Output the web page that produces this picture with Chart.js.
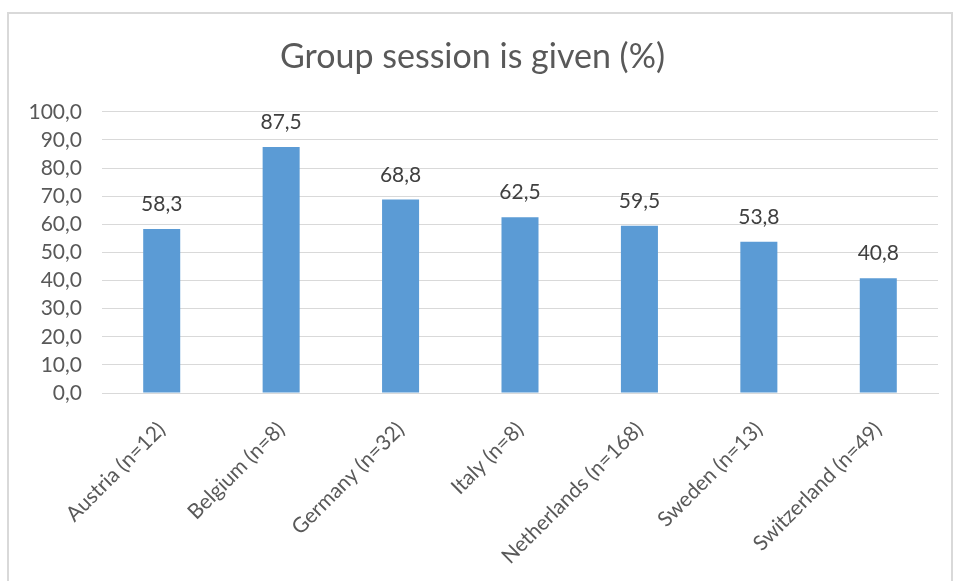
<!DOCTYPE html>
<html>
<head>
<meta charset="utf-8">
<script src="https://cdn.jsdelivr.net/npm/chart.js@4/dist/chart.umd.min.js"></script>
<style>
  body { margin: 0; background: #fff; }
  #frame { position: absolute; left: 7px; top: 12px; width: 946px; height: 600px; border: 2px solid #d9d9d9; box-sizing: border-box; }
  #wrap { position: absolute; left: 0; top: 0; width: 955px; height: 581px; }
</style>
</head>
<body>
<div id="frame"></div>
<div id="wrap"><canvas id="myChart"></canvas></div>
<script>
// countries with sample size, and share giving a group session
const countries = ['Austria (n=12)', 'Belgium (n=8)', 'Germany (n=32)', 'Italy (n=8)', 'Netherlands (n=168)', 'Sweden (n=13)', 'Switzerland (n=49)'];
const percentGiven = [58.3, 87.5, 68.8, 62.5, 59.5, 53.8, 40.8];

const fmt = v => v.toFixed(1).replace('.', ',');

// value labels above each bar
const barLabels = {
    id: 'barLabels',
    afterDatasetsDraw(chart) {
        const c = chart.ctx;
        const meta = chart.getDatasetMeta(0);
        c.save();
        c.font = '21px Lato';
        c.fillStyle = '#404040';
        c.textAlign = 'center';
        c.textBaseline = 'alphabetic';
        meta.data.forEach((bar, i) => {
            c.fillText(fmt(percentGiven[i]), bar.x, bar.y - 18);
        });
        c.restore();
    }
};

const ctx = document.getElementById("myChart").getContext("2d");
const myChart = new Chart(ctx, {
    type: "bar",
    data: {
        labels: countries,
        datasets: [
            {
                label: 'Group session is given (%)',
                data: percentGiven,
                backgroundColor: '#5B9BD5',
                categoryPercentage: 1,
                barPercentage: 0.31,
            },
        ],
    },
    options: {
        responsive: true,
        maintainAspectRatio: false,
        animation: false,
        layout: { padding: { left: 7, right: 17, top: 0, bottom: 0 } },
        plugins: {
            legend: { display: false },
            tooltip: { enabled: false },
            title: {
                display: true,
                text: 'Group session is given (%)',
                color: '#595959',
                font: { family: 'Lato', size: 34, weight: 'normal' },
                padding: { top: 37, bottom: 34 },
            },
        },
        scales: {
            y: {
                min: 0,
                max: 100,
                ticks: {
                    stepSize: 10,
                    autoSkip: false,
                    color: '#595959',
                    font: { family: 'Lato', size: 21 },
                    padding: 20,
                    callback: v => fmt(v),
                },
                grid: { color: '#d9d9d9', lineWidth: 1, drawTicks: false },
                border: { display: false },
                afterFit: s => { s.width = 95; },
            },
            x: {
                ticks: {
                    color: '#595959',
                    font: { family: 'Lato', size: 21 },
                    minRotation: 45,
                    maxRotation: 45,
                    padding: 16,
                },
                grid: { display: false },
                border: { color: '#d9d9d9', width: 1 },
                afterFit: s => { s.height = 188; },
            },
        },
    },
    plugins: [barLabels],
});
</script>
</body>
</html>
